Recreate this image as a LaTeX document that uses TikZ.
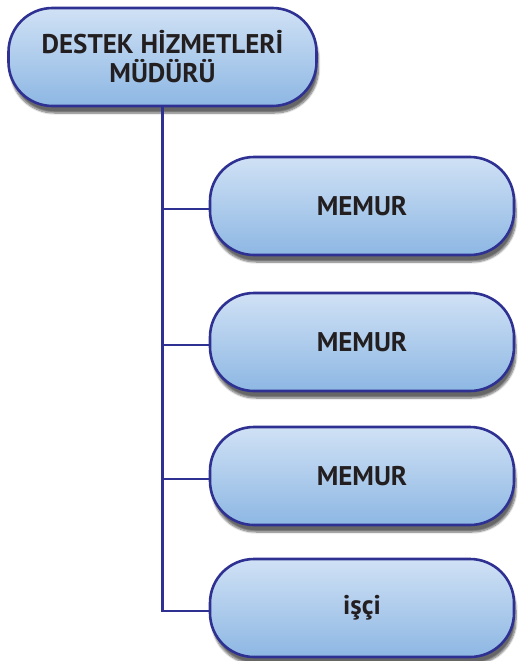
\documentclass[tikz,border=0pt]{standalone}
\usepackage{fontspec}
\setmainfont{PT Sans}
\usetikzlibrary{shadows.blur}
\definecolor{boxtop}{HTML}{D0E1F5}
\definecolor{boxbot}{HTML}{8DB7E3}
\definecolor{edge}{HTML}{2E3192}
\definecolor{ink}{HTML}{231F20}
\tikzset{
  unitbox/.style={rectangle, rounded corners=44pt, draw=edge, line width=2.6pt,
    top color=boxtop, bottom color=boxbot, text=ink,
    font=\bfseries\fontsize{27}{29}\selectfont, align=center,
    inner sep=0pt, minimum height=98pt,
    blur shadow={shadow xshift=2pt, shadow yshift=-7pt, shadow blur steps=8,
      shadow opacity=60, shadow blur extra rounding=3pt}},
  link/.style={draw=edge, line width=2.4pt}
}
\begin{document}
\begin{tikzpicture}[x=1pt, y=-1pt]
  \useasboundingbox (0,0) rectangle (517,661);
  % head of the unit
  \node[unitbox, minimum width=308pt] (head) at (162.5,57) {DESTEK HİZMETLERİ\\MÜDÜRÜ};
  % staff positions
  \node[unitbox, minimum width=304pt] (m1) at (362,206) {MEMUR};
  \node[unitbox, minimum width=304pt] (m2) at (362,342) {MEMUR};
  \node[unitbox, minimum width=304pt] (m3) at (362,476) {MEMUR};
  \node[unitbox, minimum width=304pt] (w1) at (362,608) {işçi};
  % reporting lines
  \coordinate (bus) at (head.south |- w1.west);
  \draw[link] (head.south) -- ([yshift=-3pt]bus) -- ([yshift=-3pt]w1.west);
  \draw[link] (head.south |- m1.west) ++(0,3) -- ([yshift=-3pt]m1.west);
  \draw[link] (head.south |- m2.west) ++(0,3) -- ([yshift=-3pt]m2.west);
  \draw[link] (head.south |- m3.west) ++(0,3) -- ([yshift=-3pt]m3.west);
\end{tikzpicture}
\end{document}
